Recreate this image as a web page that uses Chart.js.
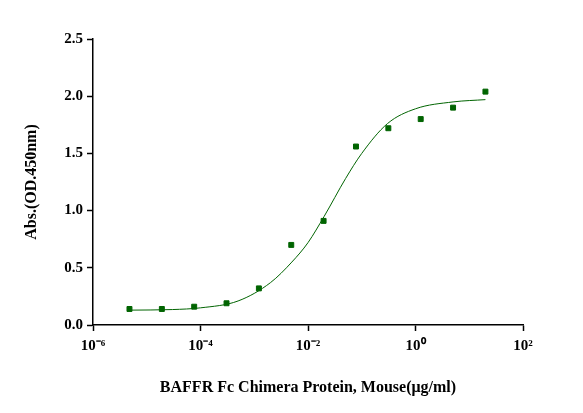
<!DOCTYPE html><html><head><script src="https://cdn.jsdelivr.net/npm/chart.js@4"></script>
<style>body{margin:0;background:#fff}#w{width:583px;height:413px}</style></head><body><div id="w"><canvas id="c"></canvas></div>
<script>
const concentrations=[4.77e-6,1.91e-5,7.63e-5,3.05e-4,1.22e-3,4.88e-3,1.95e-2,7.81e-2,0.3125,1.25,5,20];
const absorbance=[0.14,0.14,0.16,0.19,0.32,0.70,0.91,1.56,1.72,1.80,1.90,2.04];
const curveX=[4.77e-6,3e-5,1e-4,5e-4,2e-3,5e-3,1e-2,2e-2,5e-2,1e-1,3e-1,1,5,20];
const curveY=[0.13,0.135,0.15,0.21,0.37,0.55,0.72,0.95,1.28,1.5,1.76,1.89,1.95,1.97];
const xTicks=[-6,-4,-2,0,2];
const sup={'-':'⁻','0':'⁰','1':'¹','2':'²','3':'³','4':'⁴','5':'⁵','6':'⁶','7':'⁷','8':'⁸','9':'⁹'};
const f="'Liberation Serif'";
const ax={display:true,drawOnChartArea:false,drawTicks:true,tickLength:6,tickColor:'#000',tickWidth:1.5};
new Chart(document.getElementById('c'),{data:{datasets:[
{type:'line',data:curveX.map((x,i)=>({x,y:curveY[i]})),borderColor:'#006400',borderWidth:1,pointRadius:0,cubicInterpolationMode:'monotone'},
{type:'scatter',data:concentrations.map((x,i)=>({x,y:absorbance[i]})),pointStyle:'rect',pointRadius:3.5,backgroundColor:'#006400',borderColor:'#006400'}]},
options:{responsive:true,maintainAspectRatio:false,animation:false,layout:{padding:{top:39,right:60,left:22,bottom:12}},
plugins:{legend:{display:false},tooltip:{enabled:false}},
scales:{x:{type:'logarithmic',min:1e-6,max:100,afterBuildTicks:a=>{a.ticks=xTicks.map(e=>({value:Math.pow(10,e)}))},afterFit:s=>{s.height=76},
ticks:{color:'#000',font:{family:f,size:15,weight:'bold'},maxRotation:0,padding:6,callback:v=>'10'+String(Math.round(Math.log10(v))).split('').map(c=>sup[c]).join('')},
grid:ax,border:{color:'#000',width:1.5},
title:{display:true,text:'BAFFR Fc Chimera Protein, Mouse(μg/ml)',color:'#000',padding:{top:10},font:{family:f,size:16,weight:'bold'}}},
y:{min:0,max:2.5,afterFit:s=>{s.width=71},ticks:{stepSize:0.5,color:'#000',padding:4,font:{family:f,size:15,weight:'bold'},callback:v=>v.toFixed(1)},
grid:ax,border:{color:'#000',width:1.5},
title:{display:true,text:'Abs.(OD.450nm)',color:'#000',padding:0,font:{family:f,size:16,weight:'bold'}}}}}});
</script></body></html>
